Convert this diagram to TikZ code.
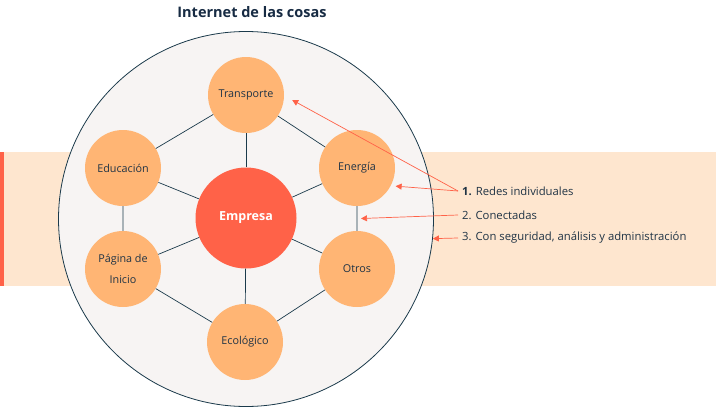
\documentclass[tikz,border=0pt]{standalone}
\usepackage{fontspec}
\setmainfont{Open Sans}
\usetikzlibrary{arrows.meta, calc}
\definecolor{IoTnavy}{HTML}{1B3A4B}
\definecolor{IoTtext}{HTML}{1F3345}
\definecolor{IoTtitle}{HTML}{172B43}
\definecolor{IoTpeach}{HTML}{FEE6CF}
\definecolor{IoTorange}{HTML}{FFB574}
\definecolor{IoTred}{HTML}{FF6248}
\definecolor{IoTgrey}{HTML}{F7F4F3}

\begin{document}
\begin{tikzpicture}[x=1pt, y=-1pt,
        nodo/.style={circle, fill=IoTorange, minimum size=76pt, inner sep=0pt,
                     font=\fontsize{10.8}{21}\selectfont, text=IoTtext, align=center},
        enlace/.style={IoTnavy, line width=0.7pt},
        flecha/.style={-{Triangle[length=6pt, width=6pt]}, IoTred, line width=0.7pt},
        etiqueta/.style={anchor=west, inner sep=0pt, text=IoTtext,
                         font=\fontsize{11.3}{13}\selectfont}
      ]
      \useasboundingbox (0,0) rectangle (716,407);
      % banda de fondo
      \fill[IoTpeach] (0,152) rectangle (716,286);
      \fill[IoTred] (0,152) rectangle (4,286);
      \node[circle, draw=IoTnavy, fill=IoTgrey, line width=0.8pt, minimum size=375pt,
            inner sep=0pt] (nube) at (246,219) {};
      \node[text=IoTtitle, font=\bfseries\fontsize{14.5}{16}\selectfont] (titulo)
            at (252,12) {Internet de las cosas};
      % nodos
      \node[circle, fill=IoTred, minimum size=101pt, inner sep=0pt, text=white,
            font=\bfseries\fontsize{12.5}{14}\selectfont] (empresa) at (246,218) {Empresa};
      \node[nodo] (transporte) at (246,95) {Transporte};
      \node[nodo] (energia) at (357,168) {Energía};
      \node[nodo] (otros) at (357,269) {Otros};
      \node[nodo] (ecologico) at (245,342) {Ecológico};
      \node[nodo] (pagina) at (123,269) {Página de\\Inicio};
      \node[nodo] (educacion) at (123,168) {Educación};
      % enlaces
      \draw[enlace] (transporte) -- (energia) -- (otros) -- (ecologico)
                    -- (pagina) -- (educacion) -- (transporte);
      \foreach \n in {transporte, energia, otros, ecologico, pagina, educacion}
        \draw[enlace] (empresa) -- (\n);
      % etiquetas
      \node[etiqueta] (lbl1) at (462,191) {\textbf{1.} Redes individuales};
      \node[etiqueta] (lbl2) at (462,215) {2. Conectadas};
      \node[etiqueta] (lbl3) at (462,238) {3. Con seguridad, análisis y administración};
      \coordinate (entre) at ($(energia)!0.5!(otros) + (4,0)$);
      \draw[flecha] ([xshift=-4pt]lbl1.west) -- ([shift={(8,5)}]transporte.east);
      \draw[flecha] ([xshift=-4pt]lbl1.west) -- ([shift={(4,2)}]energia.-25);
      \draw[flecha] ([xshift=-4pt]lbl2.west) -- (entre);
      \draw[flecha] ([xshift=-4pt]lbl3.west) -- (nube.-6);
    \end{tikzpicture}
\end{document}
